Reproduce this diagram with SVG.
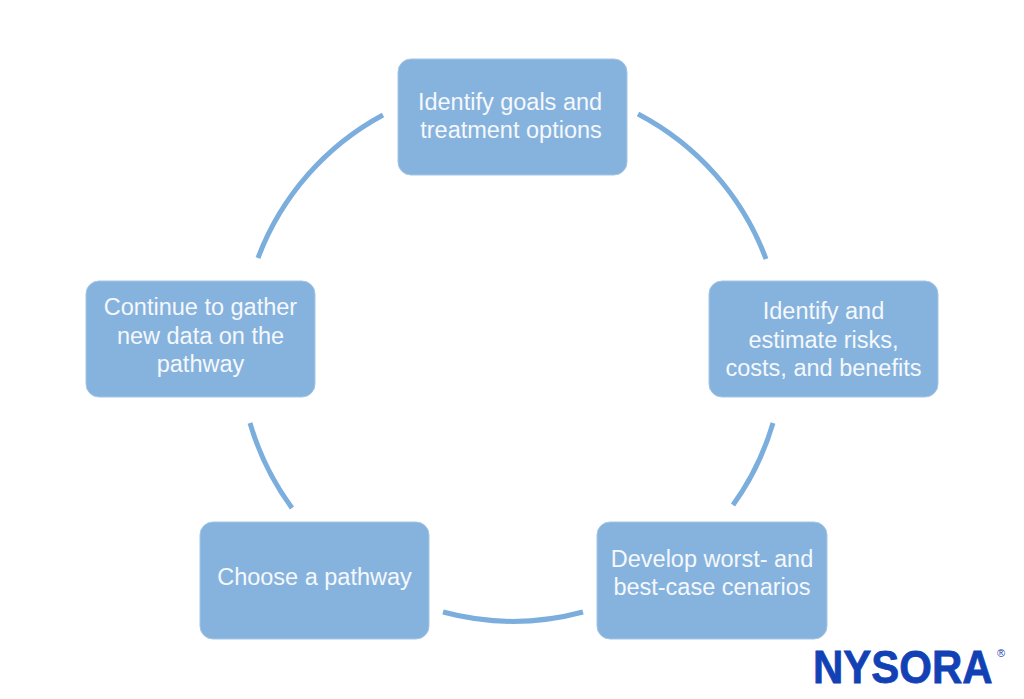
<svg xmlns="http://www.w3.org/2000/svg" width="1024" height="699" viewBox="0 0 1024 699">
<style>
.box{fill:#86B3DD;stroke:#A3C6E6;stroke-width:1}
.lbl{font-family:"Liberation Sans",Arial,sans-serif;font-size:23.5px;fill:#F5F8FC;text-anchor:middle}
.arc{fill:none;stroke:#7BAEDD;stroke-width:5;stroke-linecap:butt}
</style>
<rect width="1024" height="699" fill="#FFFFFF"/>
<g id="connectors">
<path class="arc" d="M258,258 A270,270 0 0 1 383,115"/>
<path class="arc" d="M638,114 A270,270 0 0 1 766,259"/>
<path class="arc" d="M773,423 A270,270 0 0 1 733,505"/>
<path class="arc" d="M583,612 A270,270 0 0 1 443,612"/>
<path class="arc" d="M292,508 A270,270 0 0 1 250,423"/>
</g>
<g id="node-goals">
<rect class="box" x="398" y="59" width="229" height="116" rx="13"/>
<text class="lbl" x="510" y="110">Identify goals and</text>
<text class="lbl" x="511" y="138">treatment options</text>
</g>
<g id="node-risks">
<rect class="box" x="709" y="281" width="229" height="116" rx="13"/>
<text class="lbl" x="823.5" y="319">Identify and</text>
<text class="lbl" x="823.5" y="348">estimate risks,</text>
<text class="lbl" x="823.5" y="376">costs, and benefits</text>
</g>
<g id="node-scenarios">
<rect class="box" x="597" y="522" width="230" height="117" rx="13"/>
<text class="lbl" x="712" y="567">Develop worst- and</text>
<text class="lbl" x="712" y="595">best-case cenarios</text>
</g>
<g id="node-choose">
<rect class="box" x="200" y="522" width="229" height="117" rx="13"/>
<text class="lbl" x="314.5" y="585">Choose a pathway</text>
</g>
<g id="node-gather">
<rect class="box" x="86" y="281" width="229" height="116" rx="13"/>
<text class="lbl" x="200.5" y="315">Continue to gather</text>
<text class="lbl" x="200.5" y="343.5">new data on the</text>
<text class="lbl" x="200.5" y="372">pathway</text>
</g>
<g id="logo">
<text transform="translate(813,683) scale(1,1.1)" font-family="Liberation Sans,Arial,sans-serif" font-weight="bold" font-size="42" fill="#1141B5" stroke="#1141B5" stroke-width="0.7">NYSORA</text>
<text x="997" y="657" font-family="Liberation Sans,Arial,sans-serif" font-size="11" fill="#1141B5">®</text>
</g>
</svg>
